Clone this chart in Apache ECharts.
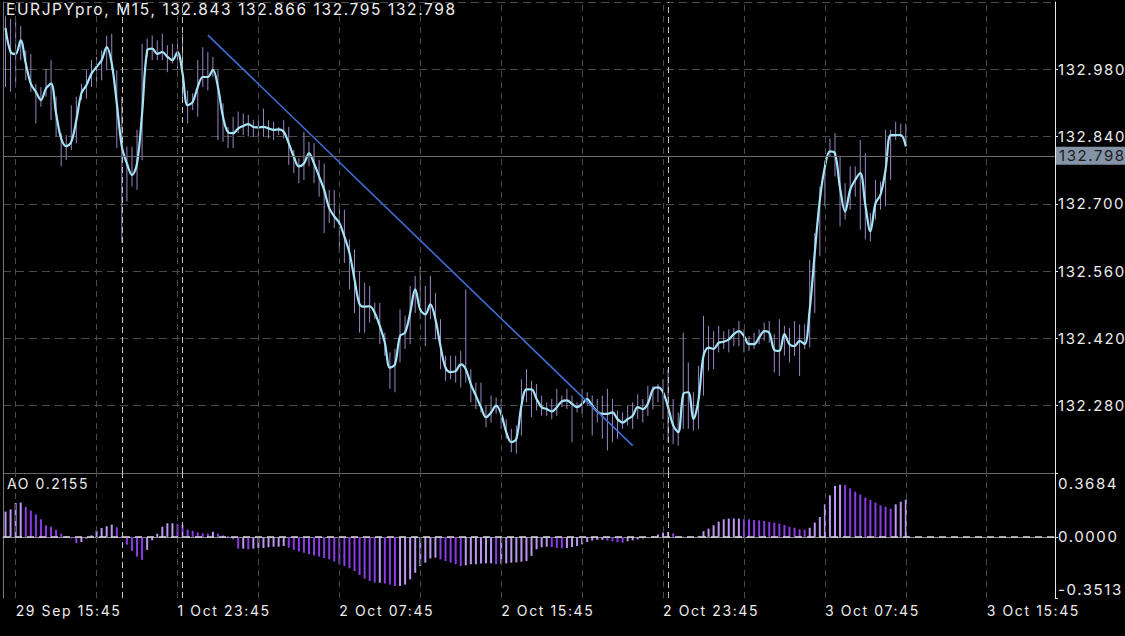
<!DOCTYPE html>
<html><head><meta charset="utf-8">
<script src="https://cdn.jsdelivr.net/npm/echarts@6/dist/echarts.min.js"></script>
<style>
html,body{margin:0;padding:0;background:#000;}
#c{width:1125px;height:636px;}
#c text{letter-spacing:1.6px;}
</style>
</head><body><div id="c"></div>
<script>
// ---------- data ----------
const titleText = 'EURJPYpro, M15, 132.843 132.866 132.795 132.798';
const aoTitle = 'AO 0.2155';
const lastPrice = 132.798;
// trading sessions: [date, first bar minute of day, bar count]
const sessions = [['29 Sep', 15*60+15, 23], ['1 Oct', 21*60, 12], ['2 Oct', 0, 96], ['3 Oct', 0, 77]];
const closes = [
133.066,133.016,133.012,133.040,132.992,132.950,132.933,132.916,132.940,132.950,
132.888,132.836,132.820,132.829,132.874,132.930,132.947,132.971,132.985,132.999,
133.026,132.992,132.909,132.819,132.784,132.760,132.784,132.888,133.019,133.023,
133.012,133.016,133.006,132.999,133.016,132.971,132.905,132.912,132.943,132.964,
132.964,132.979,132.943,132.881,132.849,132.847,132.857,132.862,132.866,132.860,
132.859,132.860,132.857,132.854,132.855,132.850,132.826,132.798,132.778,132.784,
132.805,132.784,132.757,132.729,132.691,132.674,132.660,132.632,132.598,132.543,
132.491,132.486,132.487,132.473,132.446,132.411,132.359,132.366,132.425,132.432,
132.473,132.522,132.480,132.470,132.491,132.460,132.404,132.359,132.350,132.352,
132.366,132.356,132.325,132.301,132.277,132.256,132.266,132.280,132.263,132.225,
132.204,132.211,132.280,132.314,132.314,132.294,132.277,132.273,132.268,132.277,
132.289,132.291,132.284,132.277,132.284,132.294,132.280,132.268,132.263,132.263,
132.266,132.252,132.245,132.252,132.259,132.277,132.273,132.284,132.314,132.318,
132.308,132.277,132.239,132.225,132.304,132.308,132.252,132.291,132.384,132.401,
132.398,132.411,132.413,132.418,132.429,132.435,132.425,132.408,132.408,132.422,
132.435,132.432,132.396,132.394,132.429,132.408,132.404,132.415,132.408,132.480,
132.598,132.708,132.777,132.809,132.805,132.733,132.684,132.729,132.750,132.764,
132.698,132.643,132.701,132.719,132.771,132.843,132.843,132.843,132.820];
const highs = [
133.090,133.085,133.082,133.070,133.019,133.012,132.950,132.943,132.981,132.999,
132.923,132.847,132.843,132.905,132.923,132.950,132.978,132.999,133.006,133.019,
133.050,133.054,132.978,132.923,132.819,132.819,132.854,133.033,133.044,133.050,
133.040,133.054,133.030,133.033,133.040,133.054,132.936,132.930,132.999,133.026,
133.016,133.006,132.978,132.909,132.860,132.881,132.892,132.888,132.885,132.874,
132.874,132.898,132.874,132.871,132.860,132.874,132.860,132.812,132.795,132.850,
132.829,132.826,132.791,132.784,132.729,132.729,132.695,132.688,132.626,132.605,
132.560,132.536,132.529,132.494,132.494,132.432,132.391,132.398,132.480,132.467,
132.529,132.550,132.570,132.529,132.550,132.515,132.460,132.384,132.384,132.384,
132.394,132.522,132.356,132.328,132.328,132.280,132.301,132.297,132.294,132.252,
132.232,132.239,132.335,132.356,132.332,132.325,132.301,132.287,132.294,132.315,
132.301,132.315,132.301,132.287,132.315,132.308,132.301,132.294,132.301,132.315,
132.294,132.270,132.266,132.280,132.287,132.304,132.294,132.321,132.321,132.325,
132.335,132.356,132.294,132.266,132.432,132.370,132.308,132.363,132.467,132.446,
132.435,132.446,132.435,132.439,132.442,132.456,132.439,132.425,132.432,132.439,
132.453,132.456,132.429,132.460,132.446,132.442,132.456,132.449,132.449,132.584,
132.639,132.736,132.791,132.836,132.847,132.798,132.743,132.778,132.778,132.833,
132.805,132.681,132.750,132.746,132.854,132.854,132.871,132.867,132.867];
const lows = [
132.943,132.933,132.950,132.999,132.957,132.933,132.867,132.902,132.923,132.874,
132.840,132.778,132.791,132.812,132.826,132.916,132.919,132.943,132.954,132.957,
132.978,132.978,132.816,132.619,132.705,132.736,132.729,132.791,133.006,132.999,
132.999,132.999,132.974,132.992,132.981,132.916,132.867,132.895,132.881,132.943,
132.936,132.964,132.833,132.829,132.816,132.816,132.847,132.843,132.840,132.840,
132.840,132.840,132.836,132.833,132.843,132.836,132.781,132.764,132.743,132.750,
132.778,132.743,132.715,132.639,132.660,132.650,132.598,132.577,132.522,132.473,
132.432,132.432,132.453,132.460,132.408,132.384,132.315,132.308,132.370,132.398,
132.408,132.473,132.460,132.404,132.460,132.418,132.356,132.332,132.335,132.328,
132.318,132.328,132.287,132.273,132.266,132.235,132.245,132.263,132.232,132.211,
132.183,132.180,132.218,132.287,132.256,132.270,132.259,132.259,132.252,132.259,
132.277,132.273,132.204,132.266,132.263,132.280,132.218,132.245,132.211,132.187,
132.204,132.211,132.232,132.239,132.232,132.252,132.245,132.259,132.273,132.287,
132.252,132.204,132.200,132.197,132.232,132.232,132.228,132.232,132.301,132.353,
132.356,132.391,132.398,132.391,132.404,132.404,132.391,132.394,132.398,132.408,
132.415,132.411,132.349,132.342,132.384,132.370,132.384,132.342,132.398,132.401,
132.473,132.591,132.695,132.798,132.757,132.653,132.667,132.688,132.715,132.646,
132.626,132.622,132.667,132.688,132.695,132.750,132.833,132.840,132.819];
const aoValues = [
0.146,0.159,0.196,0.198,0.173,0.152,0.130,0.102,0.067,0.059,
0.041,0.019,0.006,-0.009,-0.036,-0.029,-0.009,0.009,0.036,0.052,
0.062,0.071,0.056,0.006,-0.044,-0.080,-0.113,-0.132,-0.074,-0.019,
0.019,0.059,0.079,0.079,0.073,0.069,0.042,0.035,0.027,0.021,
0.019,0.030,0.019,0.009,0.006,-0.014,-0.067,-0.067,-0.071,-0.067,
-0.063,-0.063,-0.059,-0.056,-0.056,-0.052,-0.062,-0.074,-0.083,-0.091,
-0.098,-0.106,-0.113,-0.121,-0.129,-0.141,-0.157,-0.167,-0.180,-0.196,
-0.219,-0.240,-0.253,-0.263,-0.263,-0.268,-0.274,-0.282,-0.282,-0.274,
-0.244,-0.206,-0.167,-0.148,-0.124,-0.119,-0.129,-0.138,-0.148,-0.157,
-0.167,-0.163,-0.157,-0.157,-0.153,-0.152,-0.152,-0.157,-0.153,-0.152,
-0.148,-0.146,-0.142,-0.138,-0.109,-0.071,-0.059,-0.056,-0.058,-0.063,
-0.065,-0.063,-0.058,-0.052,-0.042,-0.029,-0.021,-0.017,-0.017,-0.021,
-0.025,-0.030,-0.033,-0.025,-0.019,-0.014,-0.008,-0.004,0.003,0.014,
0.025,0.029,0.021,0.006,0.002,0.002,-0.002,0.006,0.033,0.048,
0.067,0.088,0.102,0.106,0.106,0.106,0.103,0.102,0.098,0.096,
0.092,0.086,0.083,0.077,0.069,0.059,0.053,0.044,0.042,0.053,
0.083,0.115,0.188,0.240,0.294,0.301,0.300,0.280,0.261,0.245,
0.227,0.213,0.198,0.182,0.174,0.163,0.188,0.203,0.2155];
const priceMin = 132.14, priceMax = 133.12, priceStep = 0.14;
const aoMin = -0.3513, aoMax = 0.3684;
const aoLabels = [-0.3513, 0, 0.3684];
const trendLine = [[40, 133.051], [124, 132.197]];
const labelIdx = [2, 34, 66, 98, 130, 162, 194];
const gridIdx = [2, 18, 34, 50, 66, 82, 98, 114, 130, 146, 162, 178, 194];
const daySepIdx = [23, 35, 131];

// ---------- build ----------
const categories = [];
sessions.forEach(([d, start, n]) => {
  for (let k = 0; k < n; k++) {
    const m = start + 15 * k;
    categories.push(d + ' ' + String(Math.floor(m / 60)).padStart(2, '0') + ':' + String(m % 60).padStart(2, '0'));
  }
});
const FONT = 'Inter';
const TXT = '#ececec';
const wickData = closes.map((c, i) => [i, lows[i], highs[i]]);
const aoData = aoValues.map((v, i) => ({
  value: v,
  itemStyle: { color: (i > 0 && v < aoValues[i - 1]) ? '#8a3ce6' : '#bc98f2' }
}));
const vGridLines = gridIdx.map(i => ({ xAxis: i }));
const sepLines = daySepIdx.map(i => ({ xAxis: i, lineStyle: { color: '#c4c4c4', type: [6, 4], width: 1 } }));
const gridMarkLine = {
  silent: true, symbol: 'none', label: { show: false },
  lineStyle: { color: '#4a4a4a', type: [6, 5], width: 1 },
  data: vGridLines.concat(sepLines)
};

const chart = echarts.init(document.getElementById('c'), null, { renderer: 'svg' });
chart.setOption({
  backgroundColor: '#000',
  animation: false,
  title: [
    { text: titleText, left: 6, top: 1, padding: 0, textStyle: { color: TXT, fontSize: 15.5, fontWeight: 'normal', fontFamily: FONT } },
    { text: aoTitle, left: 7, top: 476, padding: 0, textStyle: { color: TXT, fontSize: 14, fontWeight: 'normal', fontFamily: FONT } }
  ],
  grid: [
    { left: 3, right: 70, top: 2, height: 471 },
    { left: 3, right: 70, top: 473, height: 125 }
  ],
  xAxis: [
    { type: 'category', gridIndex: 0, data: categories, boundaryGap: true,
      axisLine: { show: true, lineStyle: { color: '#6a6a6a', width: 1 } },
      axisTick: { show: false }, axisLabel: { show: false }, splitLine: { show: false } },
    { type: 'category', gridIndex: 1, data: categories, boundaryGap: true,
      axisLine: { show: true, lineStyle: { color: '#8a8a8a', width: 1 } },
      axisTick: { show: true, alignWithLabel: true, length: 4, interval: (i) => labelIdx.includes(i), lineStyle: { color: '#9a9a9a' } },
      axisLabel: { show: true, interval: (i) => labelIdx.includes(i), align: 'left', color: TXT, fontSize: 14, fontFamily: FONT, margin: 5 },
      splitLine: { show: false } }
  ],
  yAxis: [
    { type: 'value', gridIndex: 0, position: 'right', min: priceMin, max: priceMax, interval: priceStep,
      axisLine: { show: true, lineStyle: { color: '#e8e8e8', width: 1 } },
      axisTick: { show: true, length: 3, lineStyle: { color: '#e8e8e8' } },
      axisLabel: { color: TXT, fontSize: 15, fontFamily: FONT, margin: 3, showMinLabel: false, showMaxLabel: false,
        formatter: (v) => v.toFixed(3) },
      splitLine: { show: true, lineStyle: { color: '#4a4a4a', type: [8, 5], width: 1 } } },
    { type: 'value', gridIndex: 0, position: 'left', min: priceMin, max: priceMax,
      axisLine: { show: true, lineStyle: { color: '#777', width: 1 } },
      axisTick: { show: false }, axisLabel: { show: false }, splitLine: { show: false } },
    { type: 'value', gridIndex: 1, position: 'right', min: aoMin, max: aoMax,
      axisLine: { show: true, lineStyle: { color: '#e8e8e8', width: 1 } },
      axisTick: { show: true, length: 3, customValues: aoLabels, lineStyle: { color: '#e8e8e8' } },
      axisLabel: { color: TXT, fontSize: 15, fontFamily: FONT, margin: 3, customValues: aoLabels,
        formatter: (v) => {
          const s = v.toFixed(4);
          if (v > 0.3) return '{t|' + s + '}';
          if (v < -0.3) return '{b|' + s + '}';
          return s;
        },
        rich: { t: { padding: [20, 0, 0, 0], fontSize: 15, color: TXT, fontFamily: FONT },
                b: { padding: [0, 0, 18, 0], fontSize: 15, color: TXT, fontFamily: FONT } } },
      splitLine: { show: false } },
    { type: 'value', gridIndex: 1, position: 'left', min: aoMin, max: aoMax,
      axisLine: { show: true, lineStyle: { color: '#777', width: 1 } },
      axisTick: { show: false }, axisLabel: { show: false }, splitLine: { show: false } }
  ],
  series: [
    { type: 'custom', name: 'range', xAxisIndex: 0, yAxisIndex: 0, z: 2,
      data: wickData, encode: { x: 0, y: [1, 2] },
      renderItem: (params, api) => {
        const a = api.coord([api.value(0), api.value(1)]);
        const b = api.coord([api.value(0), api.value(2)]);
        return { type: 'line', shape: { x1: a[0], y1: a[1], x2: b[0], y2: b[1] },
          style: { stroke: 'rgba(192,166,242,0.8)', lineWidth: 1 } };
      },
      markLine: gridMarkLine },
    { type: 'line', name: 'EURJPYpro', xAxisIndex: 0, yAxisIndex: 0, z: 4,
      data: closes, smooth: 0.35, symbol: 'none',
      lineStyle: { color: '#a4e4f5', width: 2.2 },
      markLine: {
        silent: true, symbol: 'none',
        data: [
          [{ coord: trendLine[0] }, { coord: trendLine[1], lineStyle: { color: '#3f6ed4', width: 1.6, type: 'solid' }, label: { show: false } }],
          { yAxis: lastPrice, lineStyle: { color: '#6c6c6c', width: 1, type: 'solid' },
            label: { show: true, position: 'end', distance: 1, formatter: lastPrice.toFixed(3),
              backgroundColor: '#8593a7', color: '#1c1c1c', fontSize: 15, fontFamily: FONT, padding: [2, 12, 1, 3] } }
        ]
      } },
    { type: 'bar', name: 'AO', xAxisIndex: 1, yAxisIndex: 2, z: 2,
      data: aoData, barWidth: 2,
      markLine: {
        silent: true, symbol: 'none', label: { show: false },
        lineStyle: { color: '#4a4a4a', type: [6, 5], width: 1 },
        data: vGridLines.concat(sepLines).concat([{ yAxis: 0, lineStyle: { color: '#d6d6d6', type: [7, 5], width: 1.5 } }])
      } }
  ]
});
</script>
</body></html>
